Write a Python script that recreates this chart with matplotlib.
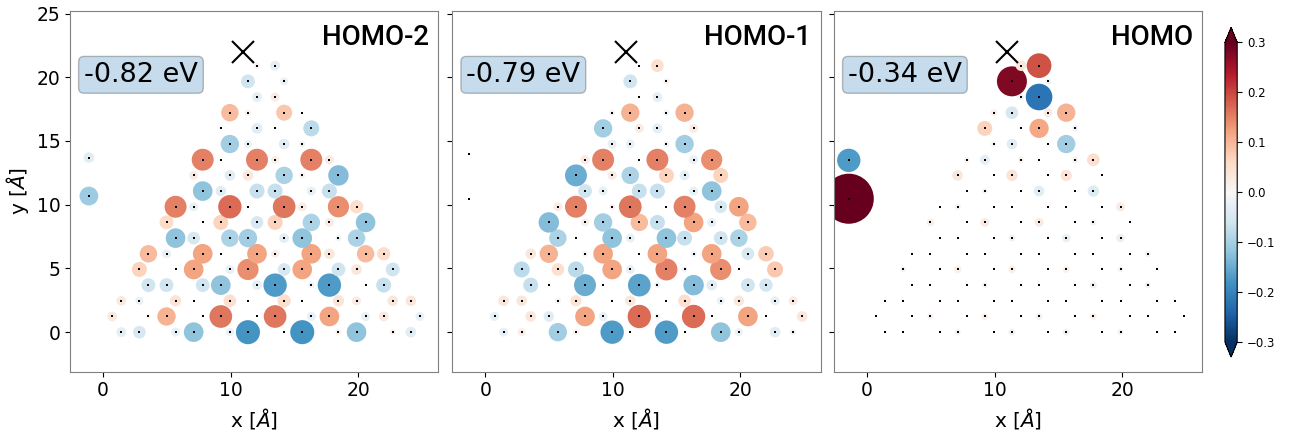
import numpy as np
import matplotlib.pyplot as plt
from matplotlib.colors import Normalize

# carbon sites of the triangular flake, one list per row (Angstrom)
row_y = [0.00, 1.23, 2.46, 3.69, 4.92, 6.15, 7.38, 8.61, 9.84,
         11.07, 12.30, 13.53, 14.76, 15.99, 17.22, 18.45, 19.68, 20.91]
row_x = [
    [1.42, 2.84, 5.68, 7.10, 9.94, 11.36, 14.20, 15.62, 18.46, 19.88, 22.72, 24.14],
    [0.71, 3.55, 4.97, 7.81, 9.23, 12.07, 13.49, 16.33, 17.75, 20.59, 22.01, 24.85],
    [1.42, 2.84, 5.68, 7.10, 9.94, 11.36, 14.20, 15.62, 18.46, 19.88, 22.72, 24.14],
    [3.55, 4.97, 7.81, 9.23, 12.07, 13.49, 16.33, 17.75, 20.59, 22.01],
    [2.84, 5.68, 7.10, 9.94, 11.36, 14.20, 15.62, 18.46, 19.88, 22.72],
    [3.55, 4.97, 7.81, 9.23, 12.07, 13.49, 16.33, 17.75, 20.59, 22.01],
    [5.68, 7.10, 9.94, 11.36, 14.20, 15.62, 18.46, 19.88],
    [4.97, 7.81, 9.23, 12.07, 13.49, 16.33, 17.75, 20.59],
    [5.68, 7.10, 9.94, 11.36, 14.20, 15.62, 18.46, 19.88],
    [7.81, 9.23, 12.07, 13.49, 16.33, 17.75],
    [7.10, 9.94, 11.36, 14.20, 15.62, 18.46],
    [7.81, 9.23, 12.07, 13.49, 16.33, 17.75],
    [9.94, 11.36, 14.20, 15.62],
    [9.23, 12.07, 13.49, 16.33],
    [9.94, 11.36, 14.20, 15.62],
    [12.07, 13.49],
    [11.36, 14.20],
    [12.07, 13.49],
]

# the two adsorbed atoms left of the flake
ad_x = [[-1.12, -1.12], [-1.30, -1.30], [-1.44, -1.44]]
ad_y = [[10.68, 13.70], [10.47, 14.00], [10.47, 13.48]]

# tip position
tip_x, tip_y = 11.0, 22.0

# orbital amplitudes on each site
homo2 = [
    [-0.03, -0.05, -0.025, -0.12, -0.02, -0.18, 0.0, -0.18, 0.012, -0.12, 0.012, -0.035],
    [0.03, 0.006, 0.105, 0.0, 0.16, 0.0, 0.16, -0.025, 0.12, -0.025, 0.03, -0.025],
    [0.03, -0.02, 0.04, 0.0, 0.05, 0.0, 0.055, 0.0, 0.04, 0.025, 0.035, 0.035],
    [-0.06, -0.06, -0.06, -0.12, -0.03, -0.17, -0.012, -0.17, 0.0, -0.07],
    [0.07, 0.0, 0.12, -0.025, 0.14, -0.05, 0.12, -0.06, 0.035, -0.06],
    [0.095, -0.025, 0.12, 0.0, 0.12, 0.02, 0.12, 0.035, 0.095, 0.055],
    [-0.12, -0.05, -0.095, -0.105, -0.03, -0.12, -0.012, -0.095],
    [0.06, 0.0, 0.07, -0.05, 0.07, -0.095, 0.025, -0.12],
    [0.15, -0.025, 0.17, 0.0, 0.16, 0.025, 0.14, 0.055],
    [-0.12, -0.035, -0.07, -0.07, -0.025, -0.07],
    [0.025, -0.035, 0.035, -0.095, 0.012, -0.13],
    [0.15, 0.0, 0.15, 0.02, 0.15, 0.025],
    [-0.105, -0.02, -0.035, -0.012],
    [0.0, -0.035, 0.0, -0.08],
    [0.095, 0.012, 0.08, 0.0],
    [-0.03, 0.025],
    [-0.06, -0.02],
    [0.012, -0.03],
]
homo2_ad = [-0.11, -0.035]

homo1 = [
    [-0.025, 0.02, -0.105, 0.012, -0.17, 0.0, -0.17, 0.0, -0.12, -0.02, -0.035, -0.012],
    [-0.025, 0.035, -0.035, 0.12, -0.025, 0.17, -0.012, 0.17, 0.0, 0.12, 0.0, 0.035],
    [0.035, 0.035, 0.012, 0.04, 0.0, 0.035, 0.0, 0.05, -0.02, 0.035, -0.025, 0.025],
    [-0.07, 0.0, -0.15, 0.0, -0.16, -0.012, -0.13, -0.035, -0.06, -0.055],
    [-0.08, 0.05, -0.08, 0.12, -0.025, 0.15, -0.012, 0.14, 0.0, 0.08],
    [0.035, 0.105, 0.012, 0.12, 0.0, 0.12, -0.012, 0.12, -0.05, 0.075],
    [-0.095, 0.0, -0.12, -0.025, -0.12, -0.07, -0.06, -0.095],
    [-0.13, 0.02, -0.105, 0.095, -0.07, 0.12, -0.025, 0.095],
    [0.025, 0.15, 0.012, 0.16, 0.0, 0.15, -0.05, 0.12],
    [-0.06, -0.025, -0.07, -0.07, -0.025, -0.12],
    [-0.15, 0.025, -0.095, 0.07, -0.03, 0.07],
    [0.025, 0.15, 0.0, 0.15, -0.025, 0.14],
    [-0.025, -0.025, -0.012, -0.105],
    [-0.105, 0.025, -0.03, 0.025],
    [0.012, 0.105, -0.012, 0.105],
    [0.0, -0.03],
    [-0.06, 0.012],
    [0.0, 0.05],
]
homo1_ad = [0.0, 0.0]

homo = [
    [0.0, 0.0, 0.0, -0.012, 0.0, -0.015, 0.0, -0.015, 0.0, -0.012, 0.0, 0.0],
    [0.0, 0.0, 0.012, 0.0, 0.015, 0.0, 0.015, 0.0, 0.015, 0.0, 0.0, 0.0],
    [0.0, 0.0, 0.0, 0.0, 0.0, 0.0, 0.0, 0.0, 0.0, 0.0, 0.0, 0.0],
    [0.0, 0.0, 0.0, -0.01, 0.0, 0.0, 0.0, -0.015, 0.0, -0.012],
    [0.01, 0.0, 0.018, 0.0, 0.018, 0.0, 0.015, 0.0, 0.01, 0.0],
    [0.0, 0.0, 0.0, 0.0, 0.0, 0.0, 0.0, 0.0, 0.0, 0.012],
    [0.0, 0.0, 0.0, -0.015, 0.0, -0.022, 0.0, -0.022],
    [0.018, 0.0, 0.025, 0.0, 0.025, 0.0, 0.012, 0.0],
    [0.0, -0.012, 0.0, 0.0, 0.0, 0.0, 0.0, 0.025],
    [0.0, -0.01, 0.0, -0.035, 0.0, -0.04],
    [0.035, 0.0, 0.04, 0.0, 0.04, 0.0],
    [0.01, -0.03, 0.012, 0.0, 0.012, 0.05],
    [-0.01, -0.035, 0.0, -0.105],
    [0.07, 0.0, 0.115, -0.012],
    [0.015, -0.05, 0.025, 0.105],
    [-0.012, -0.22],
    [0.28, -0.012],
    [0.035, 0.19],
]
homo_ad = [0.78, -0.17]

titles = ['HOMO-2', 'HOMO-1', 'HOMO']
energies = ['-0.82 eV', '-0.79 eV', '-0.34 eV']
panels = [(homo2, homo2_ad), (homo1, homo1_ad), (homo, homo_ad)]

fig = plt.figure(figsize=(12.92, 4.32), dpi=100)
norm = Normalize(vmin=-0.3, vmax=0.3)
lefts = [0.0542, 0.3501, 0.6455]

xs = [x for r in row_x for x in r]
ys = [yy for yy, r in zip(row_y, row_x) for _ in r]

for i, (vals, ad_vals) in enumerate(panels):
    ax = fig.add_axes([lefts[i], 0.1396, 0.2851, 0.835])
    x = np.array(xs + ad_x[i])
    y = np.array(ys + ad_y[i])
    c = np.array([v for r in vals for v in r] + ad_vals)

    sc = ax.scatter(x, y, s=1665 * np.abs(c), c=c, cmap='RdBu_r', norm=norm,
                    linewidths=0, zorder=2)
    ax.scatter(x, y, s=4, c='k', marker='s', linewidths=0, zorder=3)
    ax.plot(tip_x, tip_y, 'kx', ms=16.5, mew=1.5, zorder=4)

    ax.text(0.975, 0.965, titles[i], transform=ax.transAxes, ha='right', va='top',
            fontsize=20, fontweight='medium', family='Roboto')
    ax.text(0.038, 0.823, energies[i], transform=ax.transAxes, ha='left', va='center',
            fontsize=19.5,
            bbox=dict(boxstyle='round,pad=0.2', facecolor='tab:blue', alpha=0.25))

    ax.set_xlim(-2.6, 26.3)
    ax.set_ylim(-3.1, 25.2)
    ax.set_aspect('equal')
    ax.set_xticks([0, 10, 20])
    ax.set_yticks([0, 5, 10, 15, 20, 25])
    ax.tick_params(labelsize=13.5)
    ax.set_xlabel(r'x [$\AA$]', fontsize=14.5)
    if i == 0:
        ax.set_ylabel(r'y [$\AA$]', fontsize=14.5)
    else:
        ax.set_yticklabels([])
    for sp in ax.spines.values():
        sp.set_color('#808080')

cax = fig.add_axes([0.9481, 0.1736, 0.0095, 0.7627])
cb = fig.colorbar(sc, cax=cax, extend='both')
cb.set_ticks([-0.3, -0.2, -0.1, 0.0, 0.1, 0.2, 0.3])
cb.ax.tick_params(labelsize=8.5)

fig.savefig('out.png', dpi=100)
